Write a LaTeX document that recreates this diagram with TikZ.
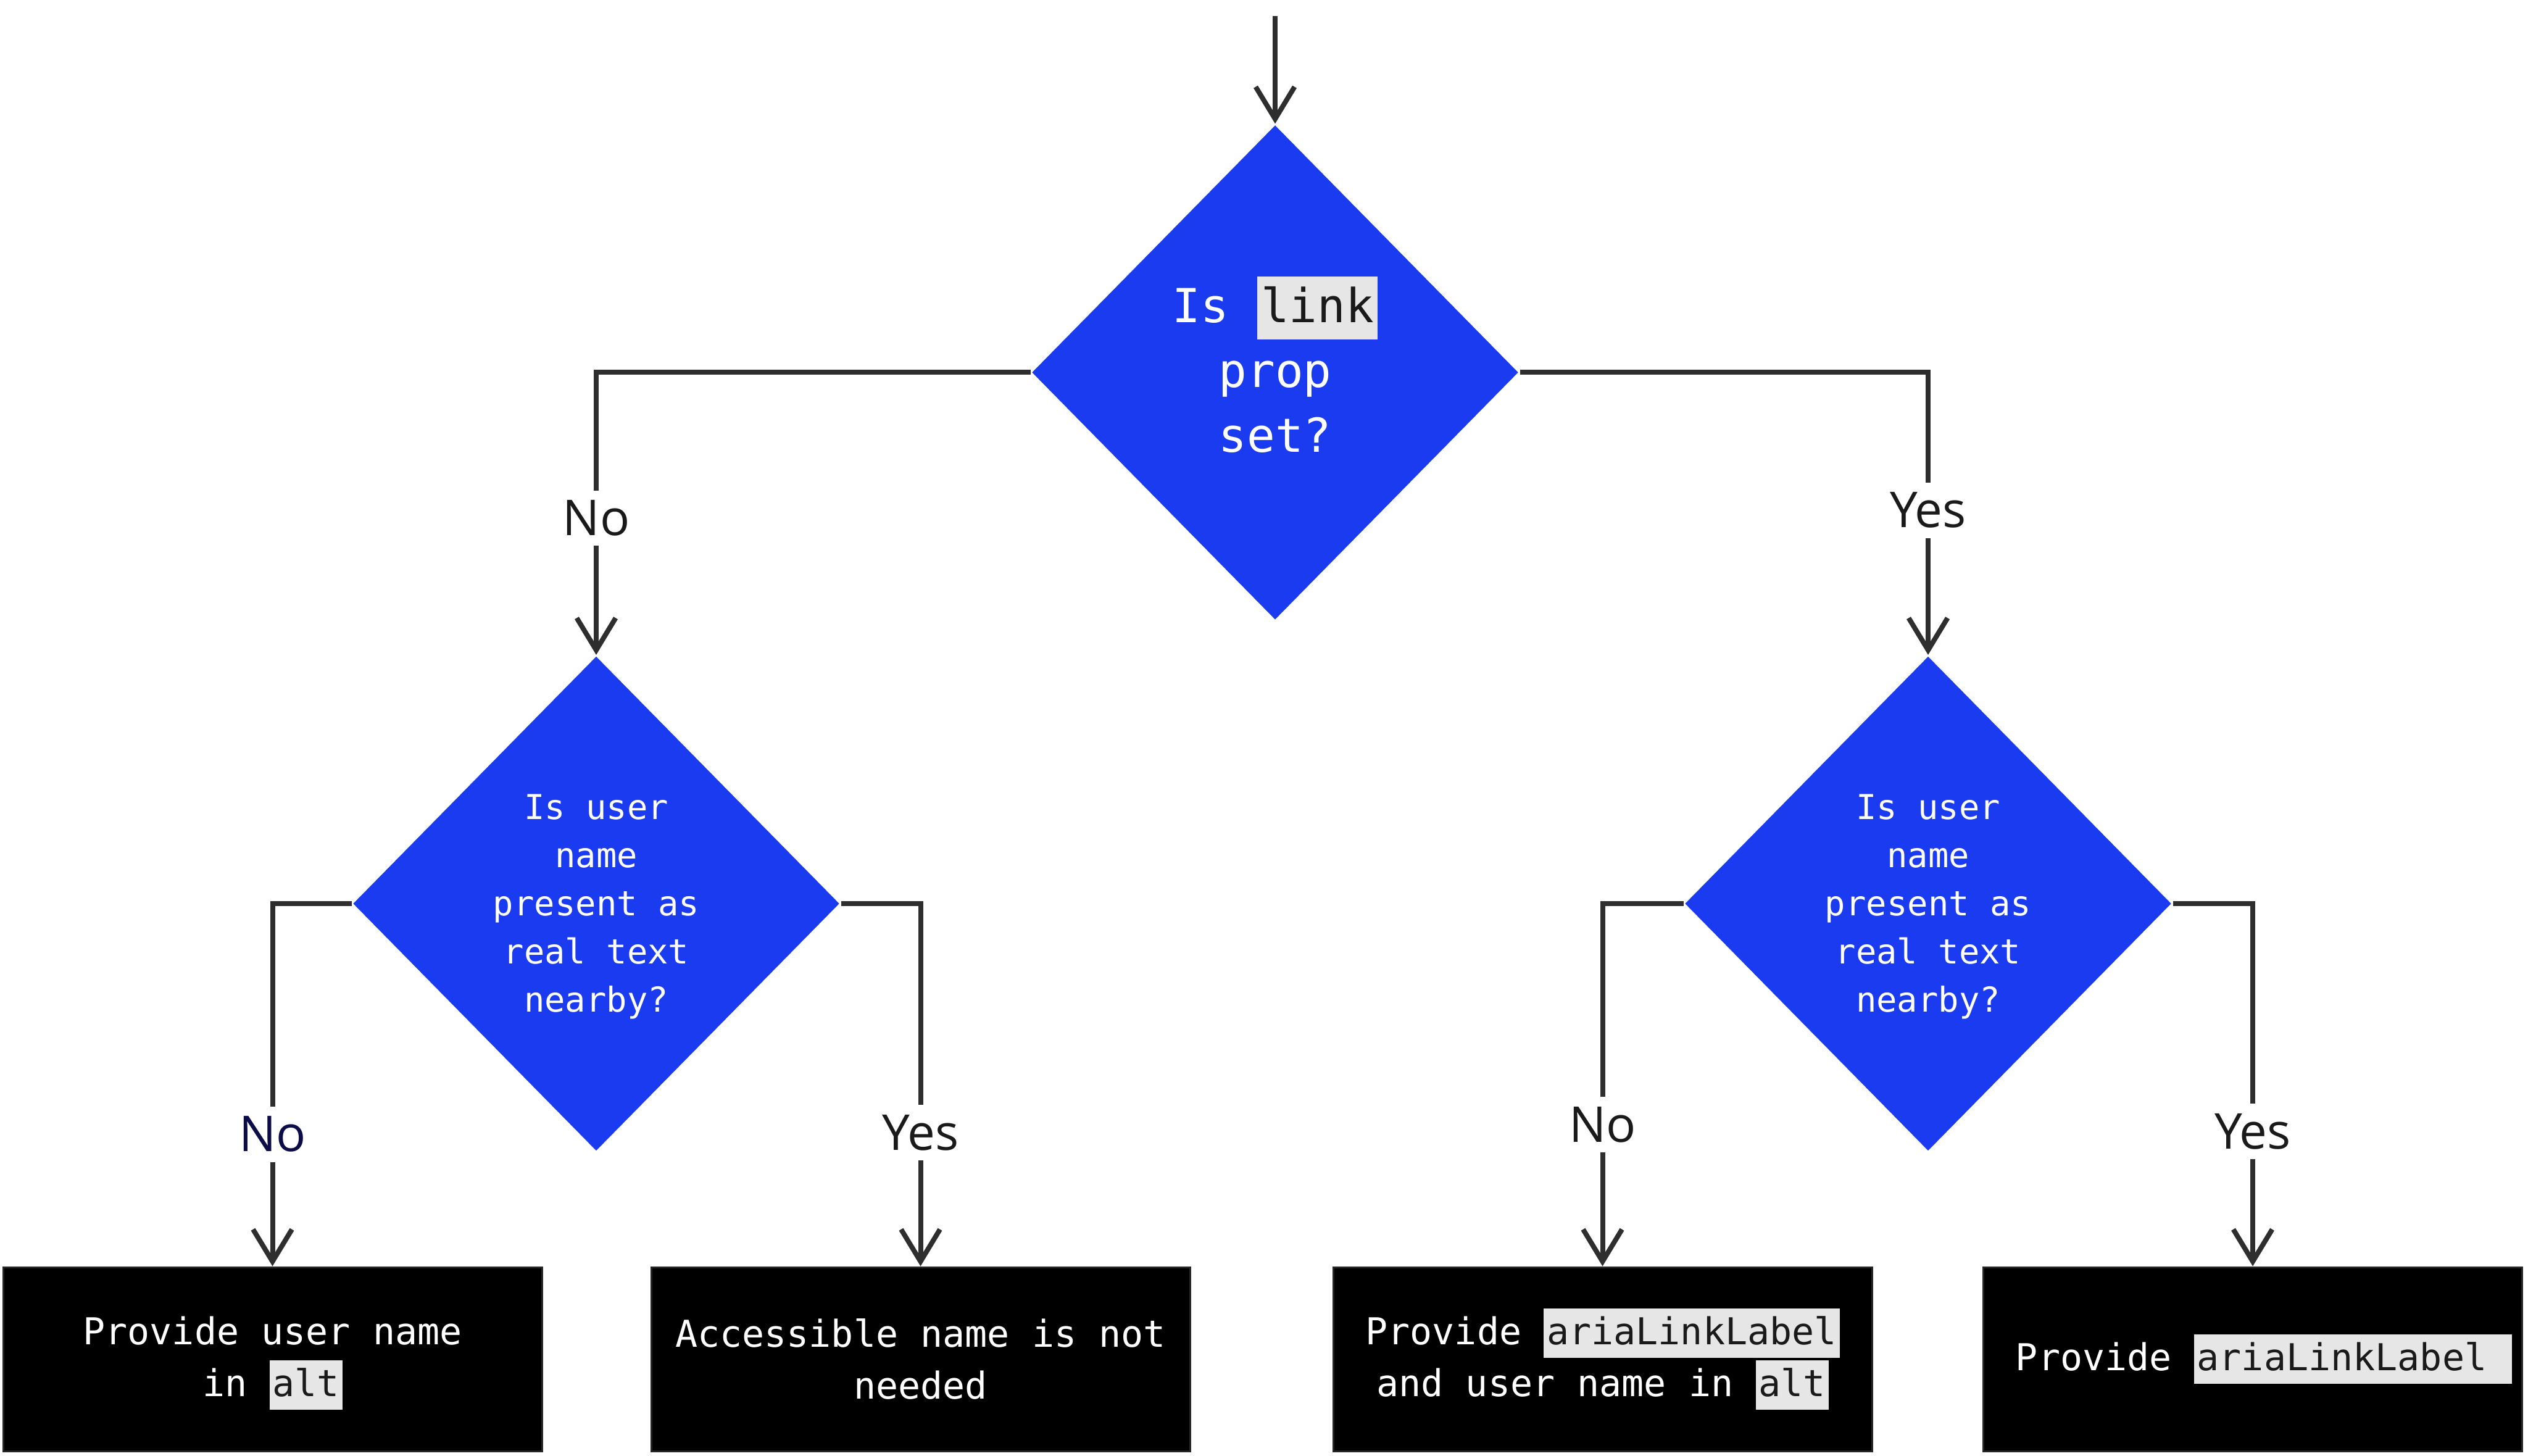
\documentclass[tikz,border=0pt]{standalone}
\usepackage{fontspec}
\setmonofont{DejaVu Sans Mono}
\newfontfamily\lblfont{Open Sans}
\usetikzlibrary{shapes.geometric,arrows.meta}
\definecolor{dblue}{HTML}{1B3BF1}
\definecolor{hlgrey}{HTML}{E6E6E6}
\definecolor{codetext}{HTML}{1A1A1A}
\definecolor{linec}{HTML}{2E2E2E}
\definecolor{navy}{HTML}{0C0C48}
\newcommand\hlcode[1]{{\setlength\fboxsep{0pt}\colorbox{hlgrey}{\color{codetext}\rule[-0.36em]{0pt}{1.34em}\kern0.08em#1\kern0.08em}}}
\begin{document}
\begin{tikzpicture}[x=1pt,y=1pt,
  dec/.style={diamond, fill=dblue, draw=none, inner sep=0pt, minimum width=78.9pt, minimum height=80.2pt, text=white, align=center},
  dec0/.style={dec, font=\ttfamily\fontsize{7.6}{10.5}\selectfont},
  dec1/.style={dec, font=\ttfamily\fontsize{5.55}{7.8}\selectfont},
  act/.style={rectangle, fill=black, draw=black!85!white, line width=0.3pt, inner sep=0pt, minimum width=87.3pt, minimum height=29.8pt, text=white, align=center, font=\ttfamily\fontsize{6.0}{8.4}\selectfont},
  conn/.style={draw=linec, line width=0.8pt, -{Straight Barb[length=5.2pt,width=6.3pt]}},
  lbl/.style={fill=white, inner sep=1.6pt, text=codetext, font=\lblfont\fontsize{8}{9.6}\selectfont}
]
\useasboundingbox (0,0) rectangle (409.6,-235.8);
\fill[white] (0,0) rectangle (409.6,-235.8);
\coordinate (start) at (206.6,-2.6);
\node[dec0] (q0) at (206.6,-60.34) {Is \hlcode{link}\\prop\\set?\rule[-2.6pt]{0pt}{0.1pt}};
\node[dec1] (q1) at (96.6,-146.4) {\rule{0pt}{5.1pt}Is user\\name\\present as\\real text\\nearby?};
\node[dec1] (q2) at (312.4,-146.4) {\rule{0pt}{5.1pt}Is user\\name\\present as\\real text\\nearby?};
\node[act] (a1) at (44.15,-220.2) {\rule{0pt}{0.98em}Provide user name\\in \hlcode{alt}};
\node[act] (a2) at (149.15,-220.2) {Accessible name is not\\needed};
\node[act] (a3) at (259.65,-220.2) {Provide \hlcode{ariaLinkLabel}\\and user name in \hlcode{alt}};
\node[act] (a4) at (365.0,-220.2) {Provide \hlcode{ariaLinkLabel\ }\kern-0.602em};
\draw[conn] (start) -- (q0.north);
\draw[conn] (q0.west) -| node[lbl,pos=0.758]{No} (q1.north);
\draw[conn] (q0.east) -| node[lbl,pos=0.744]{Yes} (q2.north);
\draw[conn] (q1.west) -| node[lbl,text=navy,pos=0.818]{No} (a1.north);
\draw[conn] (q1.east) -| node[lbl,pos=0.816]{Yes} (a2.north);
\draw[conn] (q2.west) -| node[lbl,pos=0.805]{No} (a3.north);
\draw[conn] (q2.east) -| node[lbl,pos=0.814]{Yes} (a4.north);
\end{tikzpicture}
\end{document}
